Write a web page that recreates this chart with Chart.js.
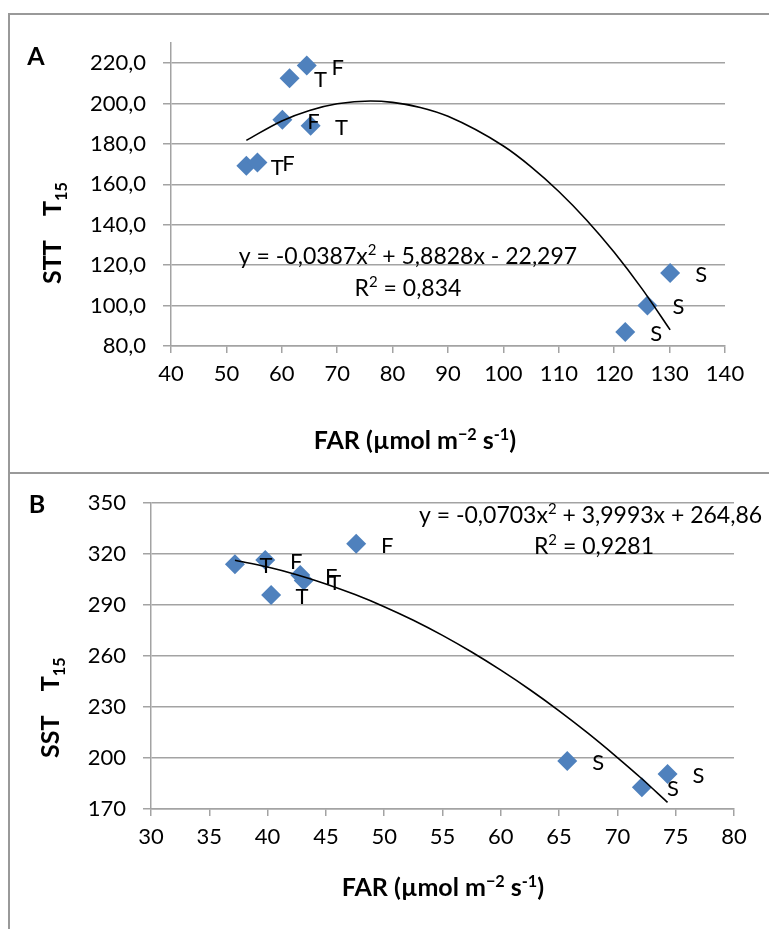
<!DOCTYPE html>
<html>
<head>
<meta charset="utf-8">
<script src="https://cdn.jsdelivr.net/npm/chart.js@4.4.1/dist/chart.umd.min.js"></script>
<style>
html, body { margin: 0; padding: 0; background: #fff; }
#wrap { position: relative; width: 769px; height: 929px; overflow: hidden; }
#wrap canvas { position: absolute; left: 0; }
.ln { position: absolute; background: #999; }
</style>
</head>
<body>
<div id="wrap">
  <canvas id="chartA" width="769" height="473" style="top:0"></canvas>
  <canvas id="chartB" width="769" height="456" style="top:473px"></canvas>
  <div class="ln" style="left:8px;top:13px;width:761px;height:2px"></div>
  <div class="ln" style="left:8px;top:13px;width:2px;height:916px"></div>
  <div class="ln" style="left:8px;top:472px;width:761px;height:2px"></div>
</div>
<script>
// panel A: STT vs FAR
const farA = [61.4, 64.5, 60.1, 65.2, 53.6, 55.6, 130.1, 126.0, 122.0];
const sttA = [212.5, 218.8, 192.0, 189.0, 169.2, 170.9, 116.2, 100.1, 86.9];
const tagsA = ['T', 'F', 'F', 'T', 'T', 'F', 'S', 'S', 'S'];
const fitFarA = [53.6, 60, 65, 70, 76, 80, 85, 90, 100, 105, 110, 115, 120, 125, 130.1];
const fitSttA = [181.8, 191.4, 196.6, 199.9, 201.3, 200.6, 198.1, 193.7, 179.0, 168.7, 156.5, 142.4, 126.4, 108.4, 88.0];
const xTicksA = [40, 50, 60, 70, 80, 90, 100, 110, 120, 130, 140];
const yTicksA = [80, 100, 120, 140, 160, 180, 200, 220];

// panel B: SST vs FAR
const farB = [37.2, 39.8, 42.8, 43.1, 40.3, 47.6, 65.7, 72.1, 74.3];
const sstB = [314.1, 316.6, 307.8, 304.5, 296.0, 326.1, 198.3, 182.8, 190.6];
const tagsB = ['T', 'F', 'F', 'T', 'T', 'F', 'S', 'S', 'S'];
const fitFarB = [37.2, 40, 42.5, 45, 47.5, 50, 52.5, 55, 57.5, 60, 62.5, 65, 67.5, 70, 72, 74.3];
const fitSstB = [316.4, 312.4, 307.9, 302.5, 296.2, 289.1, 281.1, 272.2, 262.4, 251.7, 240.2, 227.8, 214.5, 200.3, 188.4, 173.9];
const xTicksB = [30, 35, 40, 45, 50, 55, 60, 65, 70, 75, 80];
const yTicksB = [170, 200, 230, 260, 290, 320, 350];

const FONT = 'Lato';
const GRID = '#a3a3a3';

// draw a line of text made of runs: [text, shift] (shift 1 = sup, -1 = sub)
function drawRuns(ctx, runs, x, y, align, size, bold) {
  const f = s => (bold ? 'bold ' : '') + s + 'px ' + FONT;
  let w = 0;
  runs.forEach(r => {
    ctx.font = f(r[1] ? size * 0.65 : size);
    w += ctx.measureText(r[0]).width;
  });
  let cx = align === 'center' ? x - w / 2 : x;
  runs.forEach(r => {
    const s = r[1] ? size * 0.65 : size;
    ctx.font = f(s);
    const dy = r[1] === 1 ? -size * 0.38 : r[1] === -1 ? size * 0.22 : 0;
    ctx.fillText(r[0], cx, y + dy);
    cx += ctx.measureText(r[0]).width;
  });
}

const annotPlugin = {
  id: 'annot',
  afterDatasetsDraw(chart, args, o) {
    const ctx = chart.ctx;
    ctx.save();
    ctx.fillStyle = '#000';
    ctx.textBaseline = 'alphabetic';
    ctx.textAlign = 'left';

    // panel letter
    ctx.font = 'bold 25px ' + FONT;
    ctx.textAlign = 'center';
    ctx.fillText(o.letter, o.letterPos[0], o.letterPos[1]);
    ctx.textAlign = 'left';

    // trendline equation
    drawRuns(ctx, o.eq, o.eqPos[0], o.eqPos[1], o.eqAlign, 23, false);
    drawRuns(ctx, o.r2, o.r2Pos[0], o.r2Pos[1], 'center', 23, false);

    // x title
    drawRuns(ctx, [['FAR (µmol m', 0], ['−2', 1], [' s', 0], ['-1', 1], [')', 0]],
      o.xTitlePos[0], o.xTitlePos[1], 'center', 25, true);

    // y title (rotated)
    ctx.save();
    ctx.translate(o.yTitlePos[0], o.yTitlePos[1]);
    ctx.rotate(-Math.PI / 2);
    drawRuns(ctx, [[o.yName + '    T', 0], ['15', -1]], 0, 0, 'left', 25, true);
    ctx.restore();

    // point labels
    const meta = chart.getDatasetMeta(1);
    ctx.font = '22px ' + FONT;
    ctx.textAlign = 'center';
    ctx.textBaseline = 'middle';
    meta.data.forEach((pt, i) => {
      ctx.fillText(o.tags[i], pt.x + 31, pt.y + 2);
    });
    ctx.restore();
  }
};

function makeChart(id, cfg) {
  const toPts = (xs, ys) => xs.map((x, i) => ({ x: x, y: ys[i] }));
  return new Chart(document.getElementById(id), {
    type: 'scatter',
    data: {
      datasets: [{
        data: toPts(cfg.fitX, cfg.fitY),
        showLine: true,
        borderColor: '#000',
        borderWidth: 1.6,
        pointRadius: 0,
        cubicInterpolationMode: 'monotone'
      }, {
        data: toPts(cfg.xs, cfg.ys),
        pointStyle: 'rectRot',
        pointRadius: 10,
        pointBackgroundColor: '#4f81bd',
        pointBorderWidth: 0,
        pointBorderColor: '#4f81bd'
      }]
    },
    options: {
      responsive: false,
      animation: false,
      devicePixelRatio: 1,
      layout: { padding: cfg.padding },
      plugins: {
        legend: { display: false },
        tooltip: { enabled: false },
        annot: cfg.annot
      },
      scales: {
        x: {
          type: 'linear',
          min: cfg.xTicks[0],
          max: cfg.xTicks[cfg.xTicks.length - 1],
          afterBuildTicks: s => { s.ticks = cfg.xTicks.map(v => ({ value: v })); },
          afterFit: s => { s.height = cfg.xHeight; },
          ticks: { color: '#000', font: { family: FONT, size: 22 }, padding: 8, maxRotation: 0, autoSkip: false },
          grid: { drawOnChartArea: false, drawTicks: true, tickLength: 7, color: GRID, lineWidth: 1.5 },
          border: { color: GRID, width: 1.5 }
        },
        y: {
          min: cfg.yMin,
          max: cfg.yMax,
          afterBuildTicks: s => { s.ticks = cfg.yTicks.map(v => ({ value: v })); },
          afterFit: s => { s.width = cfg.yWidth; },
          ticks: { color: '#000', font: { family: FONT, size: 22 }, padding: 17, callback: cfg.fmt },
          grid: { color: GRID, lineWidth: 1.5, tickLength: 8 },
          border: { color: GRID, width: 1.5 }
        }
      }
    },
    plugins: [annotPlugin]
  });
}

makeChart('chartA', {
  xs: farA, ys: sttA, fitX: fitFarA, fitY: fitSttA,
  xTicks: xTicksA, yTicks: yTicksA, yMin: 80, yMax: 230,
  fmt: v => v.toFixed(1).replace('.', ','),
  padding: { left: 0, top: 43, right: 44, bottom: 0 },
  xHeight: 127, yWidth: 171,
  annot: {
    letter: 'A', letterPos: [36, 65],
    eq: [['y = -0,0387x', 0], ['2', 1], [' + 5,8828x - 22,297', 0]], eqPos: [408, 264], eqAlign: 'center',
    r2: [['R', 0], ['2', 1], [' = 0,834', 0]], r2Pos: [408, 296],
    xTitlePos: [415, 449],
    yName: 'STT', yTitlePos: [61, 284],
    tags: tagsA
  }
});

makeChart('chartB', {
  xs: farB, ys: sstB, fitX: fitFarB, fitY: fitSstB,
  xTicks: xTicksB, yTicks: yTicksB, yMin: 170, yMax: 350,
  fmt: v => String(v),
  padding: { left: 0, top: 30, right: 35, bottom: 0 },
  xHeight: 120, yWidth: 151,
  annot: {
    letter: 'B', letterPos: [37, 40],
    eq: [['y = -0,0703x', 0], ['2', 1], [' + 3,9993x + 264,86', 0]], eqPos: [419, 50], eqAlign: 'left',
    r2: [['R', 0], ['2', 1], [' = 0,9281', 0]], r2Pos: [594, 81],
    xTitlePos: [443, 423],
    yName: 'SST', yTitlePos: [59, 285],
    tags: tagsB
  }
});
</script>
</body>
</html>
